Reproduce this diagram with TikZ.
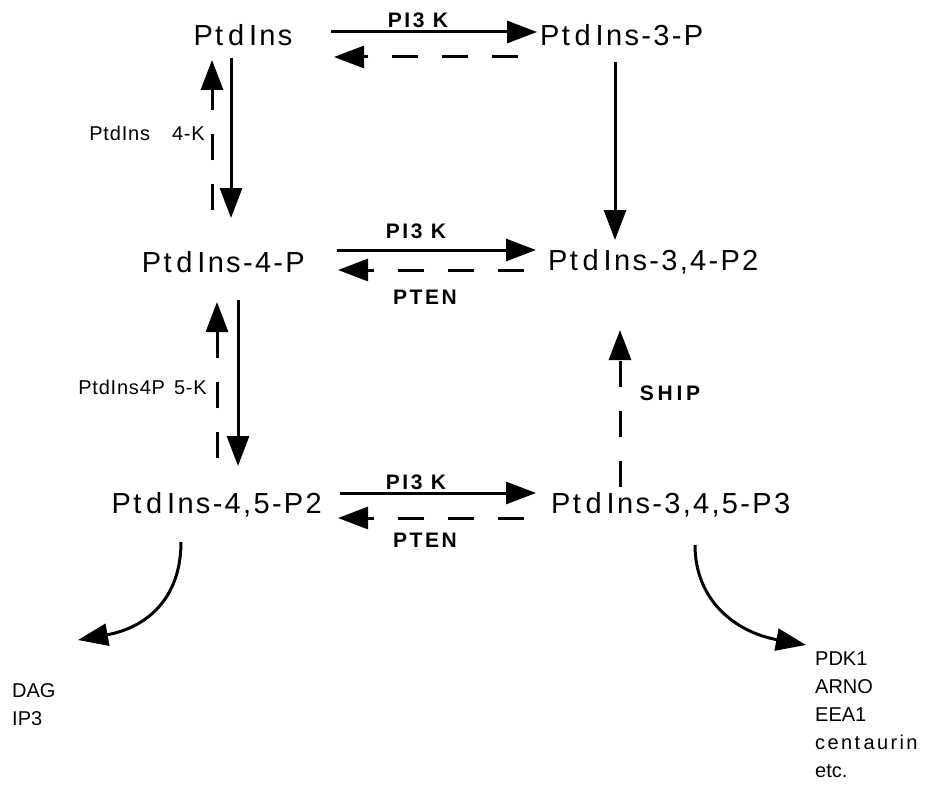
\documentclass[tikz,border=0pt]{standalone}
\usepackage{fontspec}
\setmainfont{Liberation Sans}
\usetikzlibrary{arrows.meta}
\begin{document}
\begin{tikzpicture}[x=1pt,y=-1pt,
  big/.style={font=\fontsize{29}{32}\selectfont\addfontfeature{LetterSpace=8}, inner sep=0pt},
  lab/.style={font=\fontsize{20}{23}\selectfont\addfontfeature{LetterSpace=4}, inner sep=0pt},
  blab/.style={font=\bfseries\fontsize{21}{24}\selectfont\addfontfeature{LetterSpace=12}, inner sep=0pt},
  list/.style={font=\fontsize{20}{28}\selectfont, inner sep=0pt, align=left, anchor=north west},
  arr/.style={line width=3pt, -{Triangle[length=30pt,width=22pt]}},
  darr/.style={arr, dash pattern=on 26pt off 24pt}
]
\useasboundingbox (0,0) rectangle (932,792);
% metabolites
\node[big] (pi)   at (243,35)  {Pt\,d\,Ins};
\node[big, anchor=west] (p3)   at (540,35)  {Pt\,d\,Ins-3-P};
\node[big, anchor=east] (p4)   at (305,262) {Pt\,d\,Ins-4-P};
\node[big, anchor=west] (p34)  at (548,262) {Pt\,d\,Ins-3,4-P2};
\node[big, anchor=east] (p45)  at (322,505) {Pt\,d\,Ins-4,5-P2};
\node[big, anchor=west] (p345) at (551,505) {Pt\,d\,Ins-3,4,5-P3};
% products
\node[list] (dag) at (12,683) {DAG\\IP3};
\node[list] (pdk) at (815,652) {PDK1\\ARNO\\EEA1\\{\addfontfeature{LetterSpace=12}cent\,aurin}\\etc.};
% enzyme labels
\node[blab] (k1) at (418,20)  {PI3 K};
\node[blab] (k2) at (416,231) {PI3 K};
\node[blab] (t2) at (425,297) {PTEN};
\node[blab] (k3) at (416,482) {PI3 K};
\node[blab] (t3) at (425,540) {PTEN};
\node[blab, font=\bfseries\fontsize{21}{24}\selectfont\addfontfeature{LetterSpace=18}] (ship) at (670,393) {SHIP};
\node[lab, anchor=east] (k4) at (205,133) {PtdIns\hspace{22pt}4-K};
\node[lab, anchor=east] (k5) at (207,387) {PtdIns4P\hspace{9pt}5-K};
% connector ends
\coordinate (a1) at (331,32);  \coordinate (b1) at (537,32);
\coordinate (a2) at (518,57);  \coordinate (b2) at (334,57);
\coordinate (a3) at (337,250); \coordinate (b3) at (536,250);
\coordinate (a4) at (524,270); \coordinate (b4) at (338,270);
\coordinate (a5) at (340,493); \coordinate (b5) at (536,493);
\coordinate (a6) at (524,518); \coordinate (b6) at (338,518);
\coordinate (v1a) at (231,58);  \coordinate (v1b) at (231,218);
\coordinate (v2a) at (212,210); \coordinate (v2b) at (212,60);
\coordinate (v3a) at (615,62);  \coordinate (v3b) at (615,240);
\coordinate (v4a) at (238,300); \coordinate (v4b) at (238,466);
\coordinate (v5a) at (217,458); \coordinate (v5b) at (217,302);
\coordinate (v6a) at (620,487); \coordinate (v6b) at (620,330);
\coordinate (c1a) at (181,542); \coordinate (c1b) at (78,640);
\coordinate (c2a) at (695,545); \coordinate (c2b) at (806,645);
% arrows
\draw[arr]  (a1) -- (b1);
\draw[darr] (a2) -- (b2);
\draw[arr]  (a3) -- (b3);
\draw[darr] (a4) -- (b4);
\draw[arr]  (a5) -- (b5);
\draw[darr] (a6) -- (b6);
\draw[arr]  (v1a) -- (v1b);
\draw[darr] (v2a) -- (v2b);
\draw[arr]  (v3a) -- (v3b);
\draw[arr]  (v4a) -- (v4b);
\draw[darr] (v5a) -- (v5b);
\draw[darr] (v6a) -- (v6b);
\draw[arr] (c1a) .. controls (181,600) and (145,628) .. (c1b);
\draw[arr] (c2a) .. controls (695,600) and (735,632) .. (c2b);
\end{tikzpicture}
\end{document}
